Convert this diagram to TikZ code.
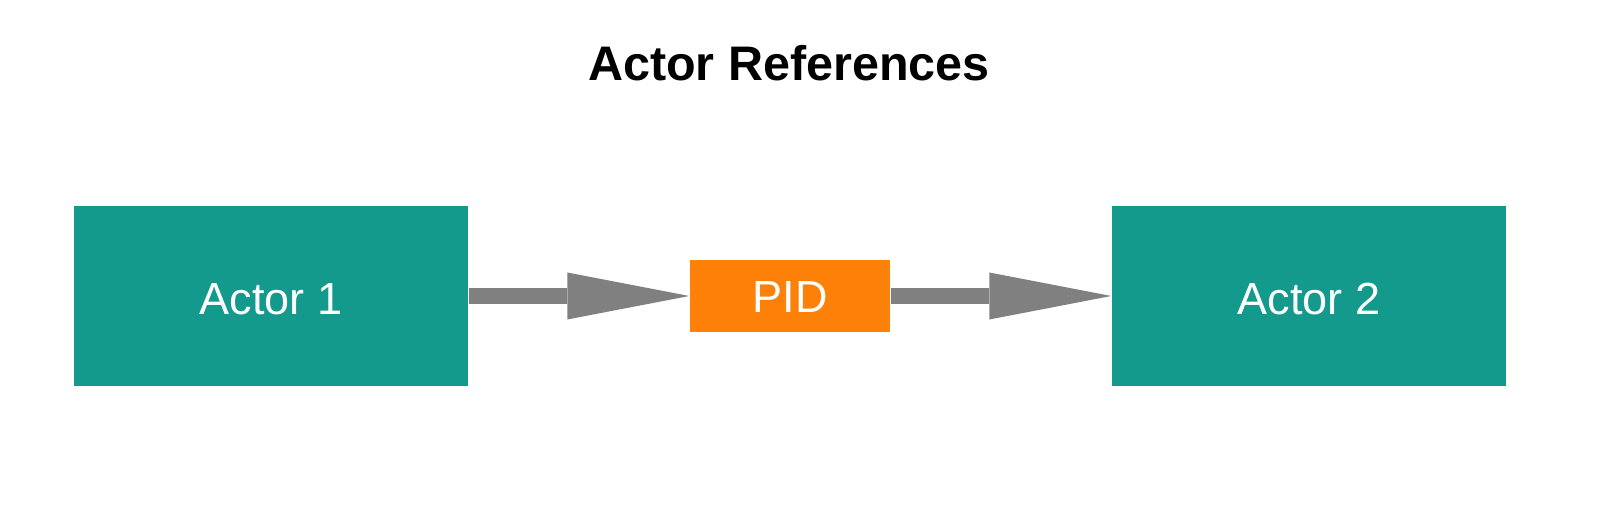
\documentclass[tikz,border=0pt]{standalone}
\usepackage{fontspec}
\setmainfont{Liberation Sans}
\usetikzlibrary{arrows.meta}
\definecolor{actorteal}{HTML}{139A8C}
\definecolor{pidorange}{HTML}{FD8008}
\definecolor{arrowgray}{HTML}{808080}
\tikzset{
  actorbox/.style={rectangle, fill=actorteal, draw=none, inner sep=0pt,
    minimum width=3.94cm, minimum height=1.80cm, text=white,
    text height=10.3pt, text depth=0pt,
    font=\fontsize{12.8}{14}\selectfont},
  pidbox/.style={rectangle, fill=pidorange, draw=none, inner sep=0pt,
    minimum width=2.00cm, minimum height=0.72cm, text=white,
    text height=9.2pt, text depth=0pt,
    font=\fontsize{12.8}{14}\selectfont},
  fatarrow/.style={draw=arrowgray, line width=0.156cm, line cap=butt,
    -{Triangle[length=1.22cm, width=0.47cm, line width=0pt, fill=arrowgray]}},
  titletext/.style={font=\bfseries\fontsize{13.8}{16}\selectfont, inner sep=0pt}
}
\begin{document}
\begin{tikzpicture}
\useasboundingbox (0,0) rectangle (15.98,-5.06);
\node[titletext, anchor=base] (title) at (7.89,-0.81) {Actor References};
\node[actorbox] (a1) at (2.71,-2.96) {Actor 1};
\node[pidbox] (pid) at (7.90,-2.96) {PID};
\node[actorbox] (a2) at (13.09,-2.96) {Actor 2};
\draw[fatarrow] (a1.east) -- (pid.west);
\draw[fatarrow] (pid.east) -- (a2.west);
\end{tikzpicture}
\end{document}
